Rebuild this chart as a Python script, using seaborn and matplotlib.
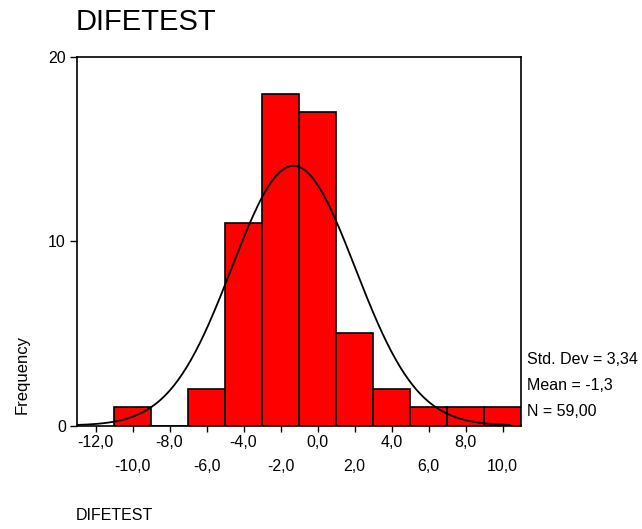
import numpy as np
import pandas as pd
import matplotlib
matplotlib.use("Agg")
import matplotlib.pyplot as plt
import seaborn as sns

# histogram data (bin width 2)
binCenters = [-10, -8, -6, -4, -2, 0, 2, 4, 6, 8, 10]
binCounts = [1, 0, 2, 11, 18, 17, 5, 2, 1, 1, 1]
binEdges = [-11, -9, -7, -5, -3, -1, 1, 3, 5, 7, 9, 11]

# summary stats shown next to the chart
statMean = -1.3
statStd = 3.34
statN = 59

majorTicks = [-12, -8, -4, 0, 4, 8]
minorTicks = [-10, -6, -2, 2, 6, 10]
yTicks = [0, 10, 20]

sns.set_style("white")
plt.rcParams["font.family"] = ["Liberation Sans", "DejaVu Sans"]
for k in ["text.color", "axes.labelcolor", "xtick.color", "ytick.color"]:
    plt.rcParams[k] = "black"

fig = plt.figure(figsize=(6.42, 5.29), dpi=100, facecolor="white")
ax = fig.add_axes([77 / 642, 1 - 425.5 / 529, (521 - 77) / 642, (425.5 - 57) / 529])

df = pd.DataFrame({"value": binCenters, "count": binCounts})
sns.histplot(ax=ax, data=df, x="value", weights="count", bins=binEdges,
             color="#ff0000", edgecolor="black", linewidth=1.2, alpha=1, zorder=2)

# fitted normal curve scaled to counts
binWidth = 2
xs = np.linspace(-13, 10.4, 300)
ys = statN * binWidth * np.exp(-0.5 * ((xs - statMean) / statStd) ** 2) / (statStd * np.sqrt(2 * np.pi))
ax.plot(xs, ys, color="black", linewidth=1.3, zorder=3)

ax.set_xlim(-13, 11)
ax.set_ylim(0, 20)
ax.set_xlabel("")
ax.set_ylabel("")

fmt = lambda v: ("%.1f" % v).replace(".", ",")
ax.set_xticks(majorTicks)
ax.set_xticklabels([fmt(t) for t in majorTicks])
ax.set_xticks(minorTicks, minor=True)
ax.set_xticklabels([fmt(t) for t in minorTicks], minor=True)
ax.tick_params(axis="x", which="major", direction="out", length=4, width=1, pad=3, labelsize=11.5, bottom=True)
ax.tick_params(axis="x", which="minor", direction="out", length=4, width=1, pad=20, labelsize=11.5, bottom=True)
ax.set_yticks(yTicks)
ax.set_yticklabels([str(t) for t in yTicks])
ax.tick_params(axis="y", direction="out", length=5, width=1, pad=3, labelsize=11.5, left=True)

for s in ["left", "top", "right", "bottom"]:
    ax.spines[s].set_visible(True)
    ax.spines[s].set_color("black")
    ax.spines[s].set_linewidth(1.2)

fig.text(76 / 642, 1 - 22 / 529, "DIFETEST", fontsize=21, ha="left", va="center")
fig.text(22 / 642, 1 - 375 / 529, "Frequency", fontsize=12, rotation=90, ha="center", va="center")
fig.text(76 / 642, 1 - 515 / 529, "DIFETEST", fontsize=11.5, ha="left", va="center")

statLines = ["Std. Dev = " + ("%.2f" % statStd).replace(".", ","),
             "Mean = " + ("%.1f" % statMean).replace(".", ","),
             "N = " + ("%.2f" % statN).replace(".", ",")]
for i, line in enumerate(statLines):
    fig.text(527 / 642, 1 - (359 + 26.5 * i) / 529, line, fontsize=11.5, ha="left", va="center")

fig.savefig("out.png", dpi=100, facecolor="white")
